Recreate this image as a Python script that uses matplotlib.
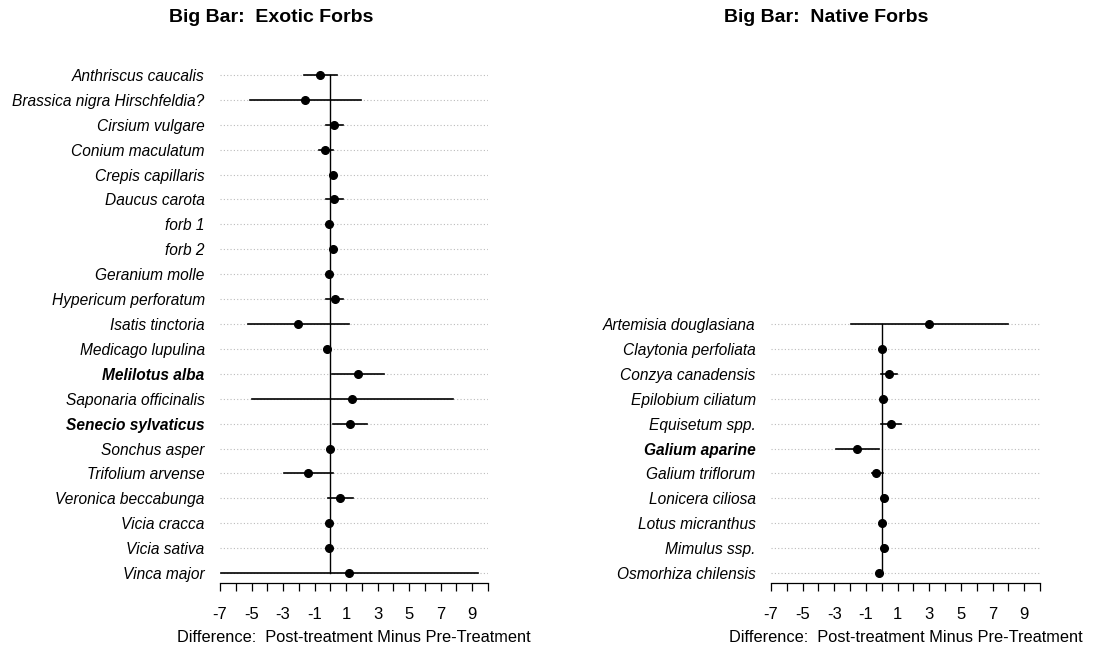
import matplotlib.pyplot as plt

plt.rcParams['font.family'] = ['Liberation Sans', 'DejaVu Sans']

# exotic forbs: mean difference and interval ends
exotic = ['Anthriscus caucalis', 'Brassica nigra Hirschfeldia?', 'Cirsium vulgare',
          'Conium maculatum', 'Crepis capillaris', 'Daucus carota', 'forb 1', 'forb 2',
          'Geranium molle', 'Hypericum perforatum', 'Isatis tinctoria', 'Medicago lupulina',
          'Melilotus alba', 'Saponaria officinalis', 'Senecio sylvaticus', 'Sonchus asper',
          'Trifolium arvense', 'Veronica beccabunga', 'Vicia cracca', 'Vicia sativa',
          'Vinca major']
exotic_mean = [-0.63, -1.58, 0.25, -0.36, 0.15, 0.25, -0.1, 0.15, -0.1, 0.27, -2.07,
               -0.19, 1.73, 1.39, 1.27, -0.04, -1.39, 0.59, -0.1, -0.1, 1.2]
exotic_lo = [-1.7, -5.1, -0.3, -0.74, 0.0, -0.3, -0.1, 0.15, -0.1, -0.3, -5.23,
             -0.3, 0.13, -4.94, 0.19, -0.04, -2.93, -0.17, -0.1, -0.1, -6.92]
exotic_hi = [0.45, 1.96, 0.8, 0.15, 0.3, 0.8, -0.1, 0.15, -0.1, 0.8, 1.16,
             -0.1, 3.38, 7.76, 2.34, -0.04, 0.19, 1.43, -0.1, -0.1, 9.39]
exotic_bold = ['Melilotus alba', 'Senecio sylvaticus']

# native forbs
native = ['Artemisia douglasiana', 'Claytonia perfoliata', 'Conzya canadensis',
          'Epilobium ciliatum', 'Equisetum spp.', 'Galium aparine', 'Galium triflorum',
          'Lonicera ciliosa', 'Lotus micranthus', 'Mimulus ssp.', 'Osmorhiza chilensis']
native_mean = [2.99, 0.02, 0.46, 0.06, 0.57, -1.54, -0.34, 0.15, 0.02, 0.15, -0.15]
native_lo = [-1.96, 0.02, -0.06, 0.06, -0.06, -2.89, -0.63, 0.15, 0.02, 0.15, -0.15]
native_hi = [8.0, 0.02, 0.99, 0.06, 1.2, -0.17, 0.1, 0.15, 0.02, 0.15, -0.15]
native_bold = ['Galium aparine']

xticks = list(range(-7, 11))
xticklabels = [str(t) if t % 2 else '' for t in xticks]

W, H = 1094, 655
fig = plt.figure(figsize=(W / 100, H / 100), dpi=100)

nrows = 21
row_px = 24.9
top_row_px = 75
ax_bottom_px = 583


def panel(x0_px, x1_px, names, mean, lo, hi, bold, title, title_x):
    top_px = top_row_px - 0.4 * row_px
    ax = fig.add_axes([x0_px / W, 1 - ax_bottom_px / H,
                       (x1_px - x0_px) / W, (ax_bottom_px - top_px) / H])
    ax.set_xlim(-7, 10)
    ax.set_ylim(nrows + (ax_bottom_px - top_row_px) / row_px - (nrows - 1), 0.6)
    # rows sit at the bottom of the 21 slots
    ys = [nrows - len(names) + 1 + i for i in range(len(names))]
    for y in ys:
        ax.plot([-7, 10], [y, y], color='#bbbbbb', lw=0.8, ls=(0, (1, 2)), zorder=1)
    ax.plot([0, 0], [ys[0], ys[-1]], color='black', lw=1.0, zorder=2)
    for y, m, a, b in zip(ys, mean, lo, hi):
        ax.plot([a, b], [y, y], color='black', lw=1.2, zorder=3)
        ax.plot(m, y, 'o', color='black', ms=5.5, zorder=4)
    for s in ['top', 'right', 'left']:
        ax.spines[s].set_visible(False)
    ax.spines['bottom'].set_bounds(-7, 10)
    ax.spines['bottom'].set_linewidth(0.9)
    ax.set_xticks(xticks)
    ax.set_xticklabels(xticklabels, fontsize=12)
    ax.tick_params(axis='x', length=6, width=0.9, pad=11)
    ax.set_yticks(ys)
    ax.set_yticklabels(names, fontsize=11.2, style='italic')
    ax.tick_params(axis='y', length=0, pad=11)
    for lab in ax.get_yticklabels():
        if lab.get_text() in bold:
            lab.set_fontweight('bold')
    ax.set_xlabel('Difference:  Post-treatment Minus Pre-Treatment', fontsize=11.8, labelpad=6)
    fig.text(title_x / W, 1 - 18 / H, title, ha='center', va='center',
             fontsize=14, fontweight='bold')
    return ax


panel(220, 488, exotic, exotic_mean, exotic_lo, exotic_hi, exotic_bold,
      'Big Bar:  Exotic Forbs', 271)
panel(771, 1040, native, native_mean, native_lo, native_hi, native_bold,
      'Big Bar:  Native Forbs', 826)

fig.savefig('out.png', dpi=100)
